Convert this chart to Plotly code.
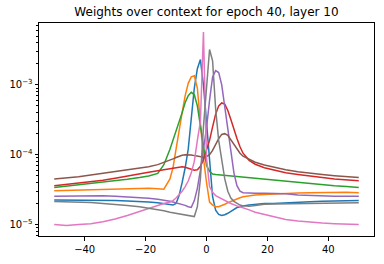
import plotly.graph_objects as go

# context offsets
X = [-50, -46, -42, -38, -34, -30, -26, -22, -19, -16, -14, -12,
     -11, -10, -9, -8, -7, -6, -5, -4, -3, -2, -1, 0, 1, 2, 3, 4, 5, 6, 7, 8, 9, 10, 11, 12,
     14, 16, 19, 22, 26, 30, 34, 38, 42, 46, 50]

blue = [2.25e-5, 2.25e-5, 2.22e-5, 2.2e-5, 2.2e-5, 2.2e-5, 2.18e-5, 2.15e-5, 2.1e-5, 2.05e-5, 2.0e-5, 1.92e-5,
        1.9e-5, 2.0e-5, 2.6e-5, 4.0e-5, 6.5e-5, 1.2e-4, 3.5e-4, 9.0e-4, 1.7e-3, 2.3e-3, 1.0e-3, 2.8e-4,
        7.0e-5, 2.5e-5, 1.6e-5, 1.4e-5, 1.35e-5, 1.38e-5, 1.45e-5, 1.55e-5, 1.65e-5, 1.75e-5, 1.8e-5, 1.85e-5,
        1.9e-5, 1.95e-5, 2.0e-5, 2.0e-5, 2.05e-5, 2.1e-5, 2.12e-5, 2.15e-5, 2.15e-5, 2.2e-5, 2.2e-5]

orange = [3.05e-5, 3.08e-5, 3.1e-5, 3.12e-5, 3.15e-5, 3.2e-5, 3.25e-5, 3.3e-5, 3.3e-5, 3.25e-5, 3.2e-5, 4.5e-5,
          6.5e-5, 1.2e-4, 2.3e-4, 4.0e-4, 7.0e-4, 1.05e-3, 1.3e-3, 1.35e-3, 9.0e-4, 3.0e-4, 9.0e-5, 4.0e-5,
          2.1e-5, 1.9e-5, 1.8e-5, 1.8e-5, 1.85e-5, 1.95e-5, 2.05e-5, 2.15e-5, 2.25e-5, 2.35e-5, 2.42e-5, 2.5e-5,
          2.58e-5, 2.65e-5, 2.7e-5, 2.75e-5, 2.8e-5, 2.82e-5, 2.85e-5, 2.87e-5, 2.9e-5, 2.9e-5, 2.85e-5]

green = [3.4e-5, 3.55e-5, 3.7e-5, 3.85e-5, 4.0e-5, 4.2e-5, 4.45e-5, 4.7e-5, 4.95e-5, 5.4e-5, 7.2e-5, 1.2e-4,
         1.6e-4, 2.1e-4, 2.8e-4, 4.0e-4, 5.6e-4, 7.0e-4, 7.8e-4, 7.2e-4, 5.0e-4, 2.5e-4, 1.2e-4, 7.0e-5,
         5.8e-5, 5.3e-5, 5.2e-5, 5.15e-5, 5.1e-5, 5.1e-5, 5.1e-5, 5.05e-5, 5.0e-5, 4.95e-5, 4.9e-5, 4.85e-5,
         4.75e-5, 4.6e-5, 4.5e-5, 4.4e-5, 4.2e-5, 4.0e-5, 3.85e-5, 3.75e-5, 3.6e-5, 3.5e-5, 3.4e-5]

red = [3.6e-5, 3.75e-5, 3.9e-5, 4.1e-5, 4.3e-5, 4.6e-5, 4.9e-5, 5.3e-5, 5.6e-5, 5.9e-5, 6.1e-5, 6.3e-5,
       6.4e-5, 6.5e-5, 6.6e-5, 6.7e-5, 6.6e-5, 6.4e-5, 6.2e-5, 6.0e-5, 6.1e-5, 6.8e-5, 8.5e-5, 1.15e-4,
       1.6e-4, 2.5e-4, 3.8e-4, 5.0e-4, 5.5e-4, 5.3e-4, 4.3e-4, 3.2e-4, 2.3e-4, 1.7e-4, 1.3e-4, 1.05e-4,
       8.3e-5, 7.3e-5, 6.5e-5, 6.0e-5, 5.5e-5, 5.2e-5, 4.9e-5, 4.7e-5, 4.5e-5, 4.4e-5, 4.25e-5]

purple = [2.54e-5, 2.56e-5, 2.6e-5, 2.6e-5, 2.58e-5, 2.55e-5, 2.5e-5, 2.42e-5, 2.38e-5, 2.3e-5, 2.25e-5, 2.15e-5,
          2.1e-5, 2.05e-5, 2.0e-5, 1.95e-5, 1.88e-5, 1.8e-5, 1.76e-5, 2.2e-5, 3.3e-5, 6.0e-5, 1.2e-4, 2.4e-4,
          6.0e-4, 1.3e-3, 1.6e-3, 1.5e-3, 1.0e-3, 5.0e-4, 2.2e-4, 1.1e-4, 5.5e-5, 3.6e-5, 3.0e-5, 2.85e-5,
          2.8e-5, 2.8e-5, 2.8e-5, 2.8e-5, 2.75e-5, 2.65e-5, 2.6e-5, 2.57e-5, 2.55e-5, 2.55e-5, 2.55e-5]

brown = [4.5e-5, 4.65e-5, 4.85e-5, 5.1e-5, 5.4e-5, 5.7e-5, 6.0e-5, 6.35e-5, 6.7e-5, 7.2e-5, 7.7e-5, 8.3e-5,
         8.7e-5, 9.1e-5, 9.5e-5, 9.8e-5, 1.0e-4, 1.0e-4, 9.9e-5, 9.7e-5, 9.5e-5, 9.3e-5, 9.2e-5, 9.4e-5,
         1.0e-4, 1.15e-4, 1.4e-4, 1.7e-4, 1.95e-4, 2.0e-4, 1.9e-4, 1.65e-4, 1.4e-4, 1.2e-4, 1.05e-4, 9.5e-5,
         8.5e-5, 7.8e-5, 7.1e-5, 6.6e-5, 6.1e-5, 5.7e-5, 5.4e-5, 5.2e-5, 5.0e-5, 4.85e-5, 4.7e-5]

pink = [1.0e-5, 0.97e-5, 1.0e-5, 1.03e-5, 1.1e-5, 1.2e-5, 1.35e-5, 1.55e-5, 1.7e-5, 1.88e-5, 2.0e-5, 2.1e-5,
        2.2e-5, 2.4e-5, 2.65e-5, 3.0e-5, 3.5e-5, 4.2e-5, 5.5e-5, 8.0e-5, 1.6e-4, 3.0e-4, 5.7e-3, 9.0e-5,
        3.5e-5, 2.9e-5, 2.6e-5, 2.45e-5, 2.3e-5, 2.2e-5, 2.1e-5, 2.0e-5, 1.9e-5, 1.85e-5, 1.8e-5, 1.75e-5,
        1.62e-5, 1.5e-5, 1.4e-5, 1.3e-5, 1.18e-5, 1.12e-5, 1.08e-5, 1.05e-5, 1.03e-5, 1.02e-5, 1.0e-5]

gray = [2.14e-5, 2.12e-5, 2.1e-5, 2.06e-5, 2.0e-5, 1.95e-5, 1.88e-5, 1.8e-5, 1.72e-5, 1.65e-5, 1.58e-5, 1.5e-5,
        1.47e-5, 1.45e-5, 1.43e-5, 1.4e-5, 1.38e-5, 1.36e-5, 1.33e-5, 1.3e-5, 1.8e-5, 4.5e-5, 2.5e-4, 1.0e-3,
        3.2e-3, 2.2e-3, 4.5e-4, 1.6e-4, 8.0e-5, 4.5e-5, 3.0e-5, 2.4e-5, 2.15e-5, 2.0e-5, 1.9e-5, 1.85e-5,
        1.82e-5, 1.88e-5, 1.95e-5, 1.97e-5, 1.98e-5, 1.98e-5, 2.0e-5, 2.0e-5, 2.02e-5, 2.05e-5, 2.05e-5]

series = [blue, orange, green, red, purple, brown, pink, gray]
colors = ["#1f77b4", "#ff7f0e", "#2ca02c", "#d62728", "#9467bd", "#8c564b", "#e377c2", "#7f7f7f"]

x_ticks = [-40, -20, 0, 20, 40]
y_ticks = [1e-5, 1e-4, 1e-3]
y_ticktext = ["10<sup>\u22125</sup>", "10<sup>\u22124</sup>", "10<sup>\u22123</sup>"]
y_minor = [m * 10.0 ** e for e in (-6, -5, -4, -3) for m in range(2, 10)]

fig = go.Figure()
for s, c in zip(series, colors):
    fig.add_trace(go.Scatter(x=X, y=s, mode="lines", line=dict(color=c, width=1.5)))

fig.update_layout(
    width=384, height=264,
    margin=dict(l=39, r=9, t=23, b=23),
    plot_bgcolor="white", paper_bgcolor="white",
    showlegend=False,
    font=dict(family="DejaVu Sans", size=10, color="black"),
    title=dict(text="Weights over context for epoch 40, layer 10",
               x=0.5, xref="paper", xanchor="center",
               y=1 - 12 / 264, yref="container", yanchor="middle",
               font=dict(size=12, family="DejaVu Sans", color="black")),
)
fig.update_xaxes(range=[-55, 55], tickvals=x_ticks, ticks="outside", ticklen=3.5, tickwidth=0.8,
                 tickcolor="black", showline=True, mirror=True, linecolor="black", linewidth=1,
                 showgrid=False, zeroline=False)
fig.update_yaxes(type="log", range=[-5.164, -2.115], tickvals=y_ticks, ticktext=y_ticktext,
                 ticks="outside", ticklen=3.5, tickwidth=0.8, tickcolor="black",
                 minor=dict(tickvals=y_minor, ticks="outside", ticklen=2, tickwidth=0.6, tickcolor="black"),
                 showline=True, mirror=True, linecolor="black", linewidth=1,
                 showgrid=False, zeroline=False)

fig.write_html("out.html")
